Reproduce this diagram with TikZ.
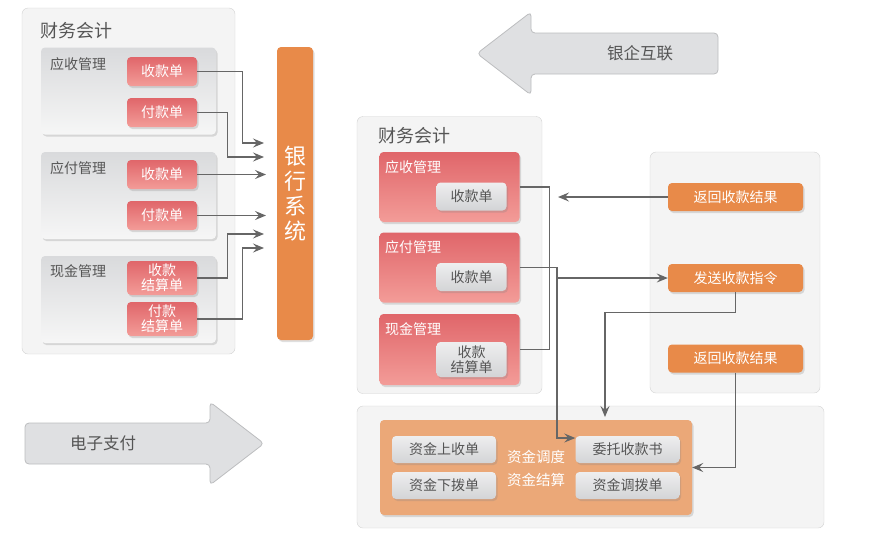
\documentclass[tikz,border=0pt]{standalone}
\usepackage{fontspec}
\setmainfont{Noto Sans CJK SC}
\usetikzlibrary{arrows.meta,shadows}

\definecolor{panelfill}{HTML}{F4F4F4}
\definecolor{paneldraw}{HTML}{D2D2D2}
\definecolor{boxtop}{HTML}{D9DADC}
\definecolor{boxbot}{HTML}{F6F6F6}
\definecolor{redtop}{HTML}{E0666A}
\definecolor{redbot}{HTML}{F39C98}
\definecolor{graytop}{HTML}{EEEEEF}
\definecolor{graybot}{HTML}{D3D4D6}
\definecolor{bankorange}{HTML}{E88A49}
\definecolor{fundorange}{HTML}{EBA878}
\definecolor{arrowfill}{HTML}{DFE0E2}
\definecolor{arrowdraw}{HTML}{BCBDBF}
\definecolor{txt}{HTML}{555555}
\definecolor{wire}{HTML}{666666}

\tikzset{
  shade/.style={drop shadow={opacity=.25,shadow xshift=1.5pt,shadow yshift=-2pt}},
  panel/.style={draw=paneldraw,fill=panelfill,rounded corners=6pt,inner sep=0pt},
  group/.style={shade,top color=boxtop,bottom color=boxbot,rounded corners=4pt,
    inner sep=0pt,minimum width=175pt,minimum height=87pt},
  redgroup/.style={shade,top color=redtop,bottom color=redbot,rounded corners=4pt,
    inner sep=0pt,minimum width=140pt,minimum height=70pt},
  redbtn/.style={shade,top color=redtop,bottom color=redbot,text=white,rounded corners=4pt,
    inner sep=0pt,minimum width=70pt,minimum height=29pt,align=center,
    font=\fontsize{14}{15}\selectfont},
  graybtn/.style={shade,top color=graytop,bottom color=graybot,text=txt,rounded corners=4pt,
    inner sep=0pt,minimum height=28pt,align=center,font=\fontsize{14}{15}\selectfont},
  orangebtn/.style={shade,fill=bankorange,text=white,rounded corners=4pt,inner sep=0pt,
    minimum width=135pt,minimum height=28pt,font=\fontsize{14}{16}\selectfont},
  title/.style={anchor=west,text=txt,inner sep=0pt,font=\fontsize{18}{20}\selectfont},
  label/.style={anchor=west,inner sep=0pt,font=\fontsize{14}{16}\selectfont},
  bigarrow/.style={draw=arrowdraw,fill=arrowfill,rounded corners=4pt,line width=.8pt},
  link/.style={draw=wire,line width=1.2pt},
  flow/.style={link,-{Stealth[length=11pt,width=9pt,inset=4pt]}}
}

\begin{document}
\begin{tikzpicture}[x=1pt,y=-1pt]

  \useasboundingbox (0,0) rectangle (872,542);

  % panels
  \node[panel,minimum width=213pt,minimum height=346pt] (lp) at (128.5,181) {};
  \node[panel,minimum width=185pt,minimum height=277pt] (mp) at (449.5,255) {};
  \node[panel,minimum width=170pt,minimum height=241pt] (rp) at (735,272.5) {};
  \node[panel,minimum width=467pt,minimum height=122pt] (bp) at (590.5,467) {};

  \node[title] (lt) at (40,31) {财务会计};
  \node[title] (mt) at (378,136) {财务会计};

  % big arrows
  \draw[bigarrow] (718,33) -- (531,33) -- (531,12) -- (477,53.5) -- (531,95)
    -- (531,74) -- (718,74) -- cycle;
  \node[text=txt,font=\fontsize{16.5}{18}\selectfont] (yq) at (640,53.5) {银企互联};
  \draw[bigarrow] (25,423) -- (210,423) -- (210,402) -- (264,443.5) -- (210,485)
    -- (210,464) -- (25,464) -- cycle;
  \node[text=txt,font=\fontsize{16.5}{18}\selectfont] (dz) at (103,443.5) {电子支付};

  % left side
  \begin{scope}[every node/.style={group}]
    \node (ga) at (128.5,91) {};
    \node (gp) at (128.5,195.5) {};
    \node (gc) at (128.5,299.5) {};
  \end{scope}

  \begin{scope}[every node/.style={label,text=txt}]
    \node (la) at (50,64) {应收管理};
    \node (lb) at (50,168) {应付管理};
    \node (lc) at (50,271) {现金管理};
  \end{scope}

  \begin{scope}[every node/.style={redbtn}]
    \node (r1) at (162,71.5) {收款单};
    \node (p1) at (162,112.5) {付款单};
    \node (r2) at (162,174.5) {收款单};
    \node (p2) at (162,215.5) {付款单};
    \node[minimum height=34pt] (c1) at (162,278) {收款\\结算单};
    \node[minimum height=34pt] (c2) at (162,319) {付款\\结算单};
  \end{scope}

  \node[shade,fill=bankorange,text=white,rounded corners=4pt,minimum width=36pt,
    minimum height=293pt,inner sep=0pt,align=center,font=\fontsize{22}{25}\selectfont]
    (bank) at (295,193.5) {银\\行\\系\\统};

  \coordinate (b1) at (264,143);
  \coordinate (b2) at (264,157);
  \coordinate (b3) at (266,174.5);
  \coordinate (b4) at (266,215.5);
  \coordinate (b5) at (264,234);
  \coordinate (b6) at (264,248);

  \draw[flow] (r1.east) -- ++(45,0) |- (b1);
  \draw[flow] (p1.east) -- ++(30,0) |- (b2);
  \path (r2.east) edge[flow] (b3);
  \path (p2.east) edge[flow] (b4);
  \draw[flow] (c1.east) -- ++(30,0) |- (b5);
  \draw[flow] (c2.east) -- ++(45,0) |- (b6);

  % middle
  \begin{scope}[every node/.style={redgroup}]
    \node (ar) at (449.5,187) {};
    \node (ap) at (449.5,267.5) {};
    \node[minimum height=71pt] (ac) at (449.5,349.5) {};
  \end{scope}

  \begin{scope}[every node/.style={label,text=white}]
    \node (lar) at (385,167) {应收管理};
    \node (lap) at (385,247) {应付管理};
    \node (lac) at (385,329) {现金管理};
  \end{scope}

  \begin{scope}[every node/.style={graybtn,minimum width=70pt}]
    \node (g1) at (471.5,196.5) {收款单};
    \node (g2) at (471.5,277) {收款单};
    \node[minimum height=35pt] (g3) at (471.5,359.5) {收款\\结算单};
  \end{scope}

  % right
  \begin{scope}[every node/.style={orangebtn}]
    \node (ret1) at (735.5,197) {返回收款结果};
    \node (send) at (735.5,278) {发送收款指令};
    \node (ret2) at (735.5,358.5) {返回收款结果};
  \end{scope}

  % bottom
  \node[shade,fill=fundorange,rounded corners=4pt,minimum width=312pt,minimum height=95pt,
    inner sep=0pt] (fund) at (536,467.5) {};

  \begin{scope}[every node/.style={graybtn,minimum width=104pt,minimum height=27pt}]
    \node (up) at (444,449.5) {资金上收单};
    \node (down) at (444,485.5) {资金下拨单};
    \node (wt) at (627.5,449.5) {委托收款书};
    \node (tb) at (627.5,485.5) {资金调拨单};
  \end{scope}

  \node[text=white,font=\fontsize{14.5}{16}\selectfont] (dd) at (536,457) {资金调度};
  \node[text=white,font=\fontsize{14.5}{16}\selectfont] (js) at (536,480) {资金结算};

  % connectors
  \coordinate (j0) at (558,197);
  \coordinate (j1) at (557,278);
  \coordinate (t2) at (605,417);

  \draw[link] (ar.east) -- ++(30,0) |- (ac.east);
  \draw[link] (ap.east) -| (j1);
  \draw[flow] (j1) |- ([yshift=11.5pt]wt.west);
  \path (j1) edge[flow] (send.west);
  \path (ret1.west) edge[flow] (j0);
  \draw[flow] (send.south) -- ++(0,20) -| (t2);
  \draw[flow] (ret2.south) |- (fund.east);

\end{tikzpicture}
\end{document}
